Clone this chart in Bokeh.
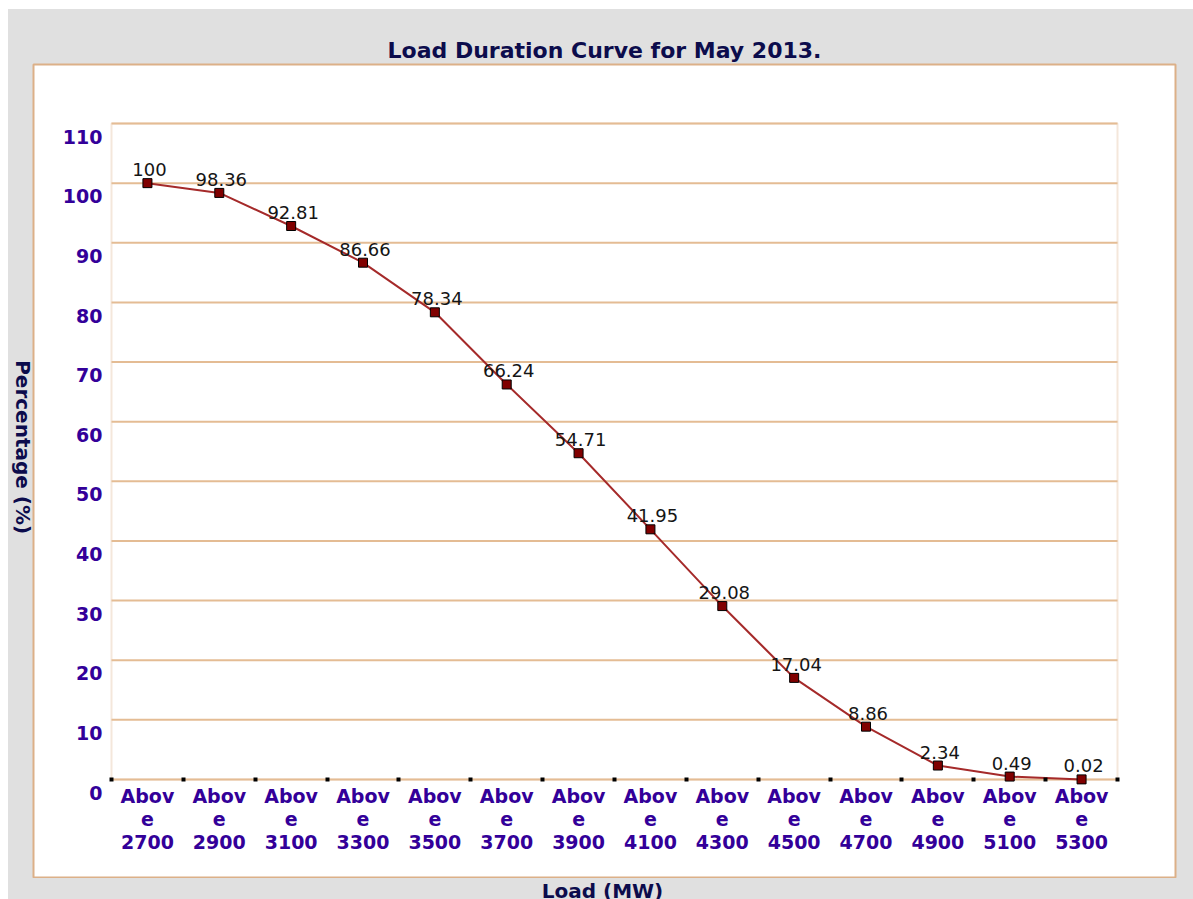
import math
from bokeh.plotting import figure
from bokeh.layouts import row, column
from bokeh.models import Range1d, FixedTicker, BoxAnnotation, LabelSet, ColumnDataSource
from bokeh.core.properties import value
from bokeh.embed import file_html
from bokeh.resources import INLINE

# ---------------- data ----------------
categories = ["2700", "2900", "3100", "3300", "3500", "3700", "3900",
              "4100", "4300", "4500", "4700", "4900", "5100", "5300"]
percent = [100, 98.36, 92.81, 86.66, 78.34, 66.24, 54.71,
           41.95, 29.08, 17.04, 8.86, 2.34, 0.49, 0.02]
percent_labels = ["100", "98.36", "92.81", "86.66", "78.34", "66.24", "54.71",
                  "41.95", "29.08", "17.04", "8.86", "2.34", "0.49", "0.02"]
y_ticks = [0, 10, 20, 30, 40, 50, 60, 70, 80, 90, 100, 110]
title_text = "Load Duration Curve for May 2013."
x_title = "Load (MW)"
y_title = "Percentage (%)"

# ---------------- layout (page pixels) ----------------
n = len(categories)
y_max = y_ticks[-1]
ORG_X, ORG_Y = 8, 9                       # grey block origin on the page
TOTAL_W, TOTAL_H = 1185, 890              # grey block size
PANEL_L, PANEL_R, PANEL_T, PANEL_B = 33, 1175, 64, 877      # white panel
IN_L, IN_R, IN_T, IN_B = 111, 1117, 123, 779                # plotting area

LEFT_W = PANEL_L - ORG_X - 1              # strip holding the y title
MAIN_W = TOTAL_W - LEFT_W
MAIN_H = PANEL_B - ORG_Y + 1
BOTTOM_H = TOTAL_H - MAIN_H               # strip holding the x title

dx = n / (IN_R - IN_L)
dy = y_max / (IN_B - IN_T)
x_range = Range1d(-(IN_L - PANEL_L) * dx, n + (PANEL_R - IN_R) * dx)
y_range = Range1d(-(PANEL_B - IN_B) * dy, y_max + (IN_T - PANEL_T) * dy)

x_pos = [i + 0.5 for i in range(n)]
tick_text = ["Abov\ne\n" + c for c in categories]

FONT = "DejaVu Sans"
NAVY = "#0c0c4c"
TICK_BLUE = "#330099"
TAN = "#dcb088"
GRID = "#e4bc94"
GREY = "#e0e0e0"

p = figure(width=MAIN_W, height=MAIN_H, x_range=x_range, y_range=y_range,
           output_backend="svg", toolbar_location=None,
           min_border_left=1, min_border_right=ORG_X + TOTAL_W - PANEL_R,
           min_border_top=PANEL_T - ORG_Y, min_border_bottom=1,
           background_fill_color="white", border_fill_color=GREY)
p.outline_line_color = TAN
p.outline_line_width = 2

# title
p.title.text = title_text
p.title.align = "center"
p.title.text_font = FONT
p.title.text_font_style = "bold"
p.title.text_font_size = "22px"
p.title.text_color = NAVY
p.title.standoff = 4

# grid lines (only across the plotting area)
p.xgrid.visible = False
p.ygrid.visible = False
p.segment(x0=[0] * len(y_ticks), x1=[n] * len(y_ticks), y0=y_ticks, y1=y_ticks,
          line_color=GRID, line_width=2)

# inner plotting-area border
p.add_layout(BoxAnnotation(left=0, right=n, bottom=0, top=y_max,
                           fill_color=None, line_color=TAN, line_width=2,
                           level="underlay"))

# y axis: labels sit just below their grid line, as in the original
off = 2.2
yax = p.yaxis[0]
yax.fixed_location = 0
yax.ticker = FixedTicker(ticks=[v - off for v in y_ticks])
yax.major_label_overrides = {v - off: str(v) for v in y_ticks}
yax.bounds = (-off, y_max - off)
yax.axis_line_color = None
yax.major_tick_line_color = None
yax.minor_tick_line_color = None
yax.major_tick_in = 0
yax.major_tick_out = 0
yax.minor_tick_in = 0
yax.minor_tick_out = 0
yax.major_label_standoff = 9
yax.major_label_text_font = FONT
yax.major_label_text_font_style = "bold"
yax.major_label_text_font_size = "19px"
yax.major_label_text_color = TICK_BLUE

# x axis
xax = p.xaxis[0]
xax.fixed_location = 0
xax.bounds = (0, n)
xax.ticker = FixedTicker(ticks=x_pos, minor_ticks=list(range(n + 1)))
xax.major_label_overrides = dict(zip(x_pos, tick_text))
xax.axis_line_color = None
xax.major_tick_line_color = None
xax.major_tick_in = 0
xax.major_tick_out = 0
xax.minor_tick_line_color = "black"
xax.minor_tick_line_width = 4
xax.minor_tick_in = 2
xax.minor_tick_out = 2
xax.major_label_standoff = 3
xax.major_label_text_font = FONT
xax.major_label_text_font_style = "bold"
xax.major_label_text_font_size = "19px"
xax.major_label_text_line_height = 1.06
xax.major_label_text_color = TICK_BLUE

# series
p.line(x_pos, percent, line_color="#a52a2a", line_width=2)
p.scatter(x_pos, percent, marker="square", size=9,
          fill_color="#800000", line_color="black", line_width=1)

src = ColumnDataSource(dict(x=x_pos, y=percent, t=percent_labels))
p.add_layout(LabelSet(x="x", y="y", text="t", source=src,
                      x_offset=2, y_offset=7,
                      text_align="center", text_baseline="alphabetic",
                      text_font=value(FONT), text_font_size=value("18px"),
                      text_color="#151515"))


def strip(w, h):
    f = figure(width=w, height=h, x_range=Range1d(0, w), y_range=Range1d(0, h),
               title=None, output_backend="svg", toolbar_location=None,
               x_axis_type=None, y_axis_type=None,
               min_border=0, min_border_left=0, min_border_right=0,
               min_border_top=0, min_border_bottom=0,
               background_fill_color=GREY, border_fill_color=GREY)
    f.outline_line_color = None
    f.grid.visible = False
    return f


# y title (reads top to bottom), in the grey strip left of the panel
ys = strip(LEFT_W, MAIN_H)
ys.text(x=[22.5 - ORG_X], y=[MAIN_H - 409], text=[y_title],
        angle=-math.pi / 2, text_align="center", text_baseline="middle",
        text_font=value(FONT), text_font_style="bold", text_font_size="20px",
        text_color=NAVY)

# x title, in the grey strip under the panel (cut by the window edge)
xs = strip(TOTAL_W, BOTTOM_H)
xs.text(x=[602 - ORG_X], y=[BOTTOM_H - 12], text=[x_title],
        text_align="center", text_baseline="alphabetic",
        text_font=value(FONT), text_font_style="bold", text_font_size="20px",
        text_color=NAVY)

layout = column(row(ys, p, spacing=0), xs, spacing=0)
layout.styles = {"margin-left": f"{ORG_X}px", "margin-top": f"{ORG_Y}px",
                 "background-color": GREY}

open("out.html", "w").write(file_html(layout, INLINE))
